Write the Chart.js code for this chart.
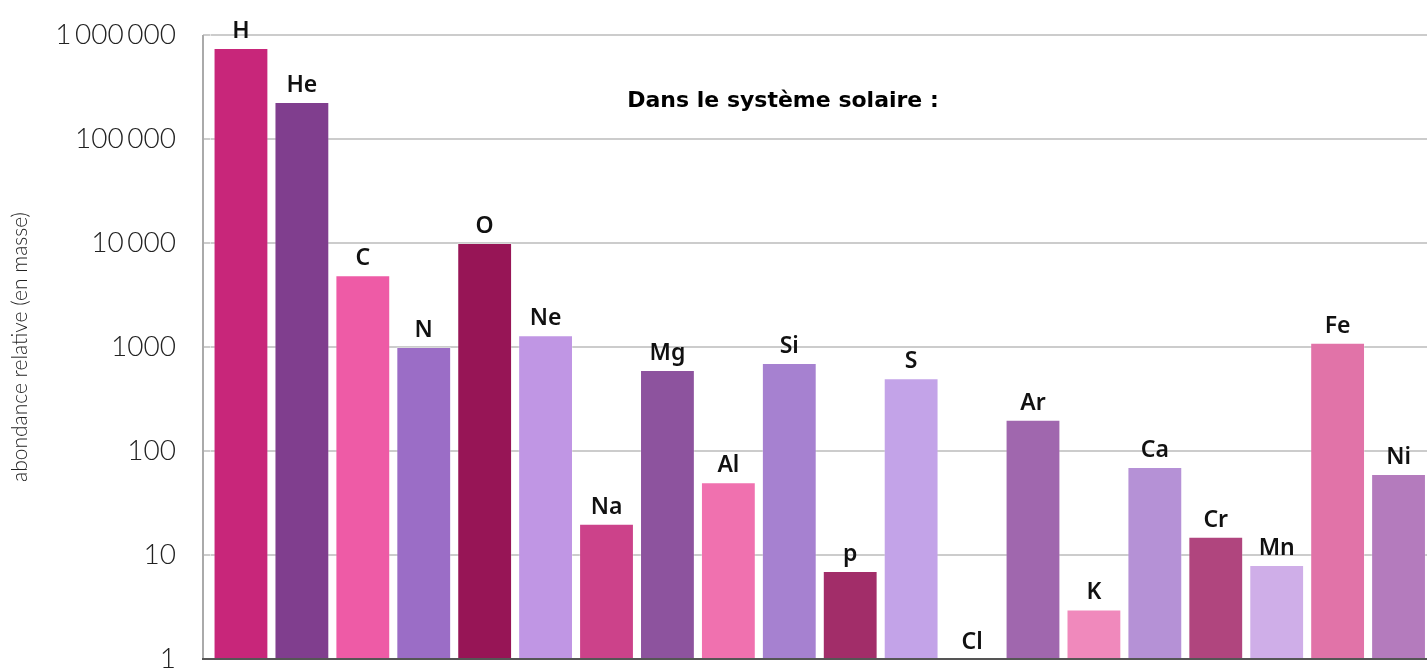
<!DOCTYPE html>
<html>
<head>
<meta charset="utf-8">
<script src="https://cdn.jsdelivr.net/npm/chart.js@4"></script>
<style>
  html, body { margin: 0; padding: 0; background: #fff; overflow: hidden; }
  #wrap { position: absolute; left: 0; top: 0; width: 1432px; height: 700px; }
</style>
</head>
<body>
<div id="wrap"><canvas id="abondance"></canvas></div>
<script>
// éléments et abondances relatives (en masse)
const elements = ['H', 'He', 'C', 'N', 'O', 'Ne', 'Na', 'Mg', 'Al', 'Si',
                  'p', 'S', 'Cl', 'Ar', 'K', 'Ca', 'Cr', 'Mn', 'Fe', 'Ni'];
const abondances = [750000, 227000, 4900, 1000, 10000, 1300, 20, 600, 50, 700,
                    7, 500, 1, 200, 3, 70, 15, 8, 1100, 60];
const couleurs = ['#c8267a', '#803e8e', '#ee5ba6', '#9b6dc6', '#971556', '#c096e4',
                  '#cc428a', '#8d539e', '#f071af', '#a681d0', '#a22d69', '#c3a3e8',
                  '#d06aa0', '#a067ae', '#f089bc', '#b591d6', '#b0457e', '#cfaee8',
                  '#e173a8', '#b47bbd'];
const yTicks = [1, 10, 100, 1000, 10000, 100000, 1000000];
const yTickLabels = ['1', '10', '100', '1000', '10\u2009000', '100\u2009000', '1\u2009000\u2009000'];

// étiquettes au-dessus des barres + titre + axes
const decorPlugin = {
    id: 'decor',
    afterDatasetsDraw: (chart) => {
        const { ctx } = chart;
        ctx.save();
        ctx.font = '600 23px "Noto Sans"';
        ctx.fillStyle = '#111';
        ctx.textAlign = 'center';
        ctx.textBaseline = 'alphabetic';
        chart.getDatasetMeta(0).data.forEach((bar, i) => {
            ctx.fillText(elements[i], bar.x, bar.y - 10);
        });
        ctx.restore();
    },
    afterDraw: (chart) => {
        const { ctx, chartArea: { left, right, top, bottom } } = chart;
        const yScale = chart.scales.y;
        ctx.save();
        // petits bouts de grille entre l'axe et la zone des barres
        ctx.strokeStyle = '#cccccc';
        ctx.lineWidth = 2;
        yTicks.forEach(v => {
            const py = yScale.getPixelForValue(v);
            ctx.beginPath();
            ctx.moveTo(left - 7.5, py);
            ctx.lineTo(left, py);
            ctx.stroke();
        });
        // axe vertical gris
        ctx.strokeStyle = '#aaaaaa';
        ctx.beginPath();
        ctx.moveTo(left - 7.5, top);
        ctx.lineTo(left - 7.5, bottom);
        ctx.stroke();
        // axe horizontal
        ctx.strokeStyle = '#555';
        ctx.beginPath();
        ctx.moveTo(left - 8.5, bottom);
        ctx.lineTo(right, bottom);
        ctx.stroke();
        // titre
        ctx.font = 'bold 22px "DejaVu Sans"';
        ctx.fillStyle = '#000';
        ctx.textAlign = 'center';
        ctx.textBaseline = 'middle';
        ctx.fillText('Dans le système solaire :', 783, 101);
        ctx.restore();
    }
};

new Chart(document.getElementById('abondance'), {
    type: 'bar',
    data: {
        labels: elements,
        datasets: [{
            data: abondances,
            backgroundColor: couleurs,
            borderColor: 'rgba(255,255,255,0.25)',
            borderWidth: 1,
            barPercentage: 0.9,
            categoryPercentage: 1.0
        }]
    },
    options: {
        responsive: true,
        maintainAspectRatio: false,
        animation: false,
        layout: { padding: { top: 35, bottom: 41, left: 0, right: 3 } },
        plugins: {
            legend: { display: false },
            tooltip: { enabled: false }
        },
        scales: {
            x: {
                type: 'category',
                grid: { display: false },
                border: { display: false },
                ticks: { display: false },
                afterFit: (scale) => { scale.height = 0; }
            },
            y: {
                type: 'logarithmic',
                min: 1,
                max: 1000000,
                afterBuildTicks: (scale) => {
                    scale.ticks = yTicks.map(v => ({ value: v }));
                },
                afterFit: (scale) => { scale.width = 210.5; },
                grid: {
                    color: '#cccccc',
                    lineWidth: 2,
                    drawTicks: true,
                    tickLength: 16.5,
                    tickColor: 'rgba(0,0,0,0)'
                },
                border: { display: false },
                ticks: {
                    padding: 18,
                    color: '#222',
                    font: { family: 'Lato', size: 28, weight: 300 },
                    callback: (value) => {
                        const i = yTicks.indexOf(value);
                        return i >= 0 ? yTickLabels[i] : '';
                    }
                },
                title: {
                    display: true,
                    text: 'abondance relative (en masse)',
                    color: '#222',
                    font: { family: 'Lato', size: 21, weight: 300 },
                    padding: { top: 8, bottom: 0 }
                }
            }
        }
    },
    plugins: [decorPlugin]
});
</script>
</body>
</html>
